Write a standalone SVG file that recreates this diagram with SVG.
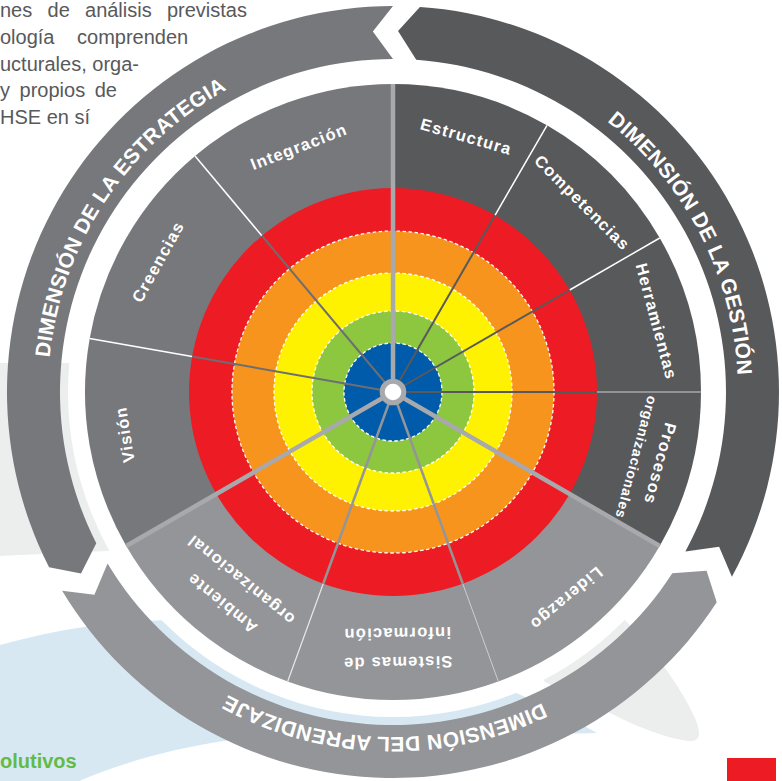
<svg xmlns="http://www.w3.org/2000/svg" width="782" height="781" viewBox="0 0 782 781">
<style>
.para{font-family:"Liberation Sans",Arial,sans-serif;font-size:20px;fill:#58595b}
.lbl{font-family:"Liberation Sans",Arial,sans-serif;font-size:16.5px;font-weight:700;fill:#fff;letter-spacing:1.2px;text-anchor:middle}
.lbl-s{font-size:14px;letter-spacing:0.8px}
.dim{font-family:"Liberation Sans",Arial,sans-serif;font-size:21px;font-weight:700;fill:#fff;letter-spacing:0.3px;text-anchor:middle}
.est{fill:#77787b}
.ges{fill:#58595b}
.apr{fill:#939598}
.dash{fill:none;stroke:#fff;stroke-width:1.3;stroke-dasharray:3.5 2.5}
.wl{stroke:#fff;stroke-width:1.5}
.thick{stroke:#a7a9ac;stroke-width:4.5}
</style>
<defs>
<path id="arc-est" d="M84.25 545.94 A345 345 0 0 1 414.06 47.64"/>
<path id="arc-ges" d="M409.85 47.41 A345 345 0 0 1 683 578.89"/>
<path id="arc-apr" d="M687.16 572.26 A345 345 0 0 1 89.81 556.62"/>
</defs>
<g id="background">
<rect width="782" height="781" fill="#fff"/>
<path d="M0 363 H72 V440 L130 550 L0 556 Z" fill="#eceeee"/>
<path d="M-10 648 C50 630 110 621 170 620 C350 615 500 680 597 733 C500 736 300 735 230 740 C160 750 100 770 60 790 L-10 790 Z" fill="#d8e8f3"/>
<path d="M560 560 L623 618 C650 645 680 685 695 718 C702 735 700 742 688 741 C665 738 635 726 610 713 C585 700 565 692 545 682 L500 620 Z" fill="#eceeee"/>
<rect x="727" y="758" width="49" height="23" fill="#ed1c24"/>
<circle cx="393" cy="392" r="325" fill="#fff"/>
</g>
<g id="paragraph">
<text class="para" x="0" y="17" word-spacing="9.7">nes de análisis previstas</text>
<text class="para" x="0" y="43.5" word-spacing="17">ología comprenden</text>
<text class="para" x="0" y="70.5">ucturales, orga-</text>
<text class="para" x="0" y="97" word-spacing="4">y propios de</text>
<text class="para" x="0" y="123.5">HSE en sí</text>
<text x="0" y="768" style="font-family:'Liberation Sans',Arial,sans-serif;font-size:20px;font-weight:700;fill:#62bb46">olutivos</text>
</g>
<g id="dim-estrategia">
<path class="est" d="M49.07 567.24 A386 386 0 0 1 393 6 L372.85 31.56 L393 59 A333 333 0 0 0 96.29 543.18 L81 573.59 Z"/>
<text class="dim"><textPath href="#arc-est" startOffset="50%">DIMENSIÓN DE LA ESTRATEGIA</textPath></text>
</g>
<g id="dim-gestion">
<path class="ges" d="M419.93 6.94 A386 386 0 0 1 731.9 576.77 L719.11 546.85 L685.37 551.4 A333 333 0 0 0 416.23 59.81 L398.04 31 Z"/>
<text class="dim"><textPath href="#arc-ges" startOffset="50%">DIMENSIÓN DE LA GESTIÓN</textPath></text>
</g>
<g id="dim-aprendizaje">
<path class="apr" d="M716.73 602.23 A386 386 0 0 1 62.13 590.8 L94.39 594.86 L107.56 563.51 A333 333 0 0 0 672.28 573.37 L706.58 570.86 Z"/>
<text class="dim"><textPath href="#arc-apr" startOffset="50%">DIMENSIÓN DEL APRENDIZAJE</textPath></text>
</g>
<g id="sector-vision">
<path class="est" d="M393 392 L126.26 546 A308 308 0 0 1 89.68 338.52 Z"/>
<text class="lbl" transform="translate(130.28 433.61) rotate(-99)">Visión</text>
</g>
<g id="sector-creencias">
<path class="est" d="M393 392 L89.68 338.52 A308 308 0 0 1 195.02 156.06 Z"/>
<text class="lbl" transform="translate(162.98 264.5) rotate(-61)">Creencias</text>
</g>
<g id="sector-integracion">
<path class="est" d="M393 392 L195.02 156.06 A308 308 0 0 1 393 84 Z"/>
<text class="lbl" transform="translate(300.9 152.07) rotate(-21)">Integración</text>
</g>
<g id="sector-estructura">
<path class="ges" d="M393 392 L393 84 A308 308 0 0 1 547 125.26 Z"/>
<text class="lbl" transform="translate(464.67 142.07) rotate(16)">Estructura</text>
</g>
<g id="sector-competencias">
<path class="ges" d="M393 392 L547 125.26 A308 308 0 0 1 659.74 238 Z"/>
<text class="lbl" transform="translate(578.26 206.74) rotate(45)">Competencias</text>
</g>
<g id="sector-herramientas">
<path class="ges" d="M393 392 L659.74 238 A308 308 0 0 1 701 392 Z"/>
<text class="lbl" transform="translate(650.9 322.9) rotate(75)">Herramientas</text>
</g>
<g id="sector-procesos">
<path class="ges" d="M393 392 L701 392 A308 308 0 0 1 659.74 546 Z"/>
<text class="lbl" transform="translate(654.77 462.14) rotate(105)">Procesos</text>
<text class="lbl lbl-s" transform="translate(631.58 455.93) rotate(105)">organizacionales</text>
</g>
<g id="sector-liderazgo">
<path class="apr" d="M393 392 L659.74 546 A308 308 0 0 1 498.34 681.42 Z"/>
<text class="lbl" transform="translate(562.7 594.23) rotate(140)">Liderazgo</text>
</g>
<g id="sector-sistemas">
<path class="apr" d="M393 392 L498.34 681.42 A308 308 0 0 1 287.66 681.42 Z"/>
<text class="lbl" transform="translate(397.6 657) rotate(179)">Sistemas de</text>
<text class="lbl" transform="translate(397.1 628) rotate(179)">información</text>
</g>
<g id="sector-ambiente">
<path class="apr" d="M393 392 L287.66 681.42 A308 308 0 0 1 126.26 546 Z"/>
<text class="lbl" transform="translate(225.6 598.72) rotate(219)">Ambiente</text>
<text class="lbl" transform="translate(244.48 575.41) rotate(219)">organizacional</text>
</g>
<g id="rings">
<circle cx="393" cy="392" r="204" fill="#ed1c24"/>
<circle cx="393" cy="392" r="161" fill="#f7941d"/>
<circle cx="393" cy="392" r="119" fill="#fff200"/>
<circle cx="393" cy="392" r="81" fill="#8dc63f"/>
<circle cx="393" cy="392" r="49" fill="#005baa"/>
<circle class="dash" cx="393" cy="392" r="161"/>
<circle class="dash" cx="393" cy="392" r="119"/>
<circle class="dash" cx="393" cy="392" r="81"/>
<circle class="dash" cx="393" cy="392" r="49"/>
</g>
<g id="connectors">
<line class="wl" x1="192.1" y1="356.58" x2="89.68" y2="338.52"/>
<line class="wl" x1="261.87" y1="235.73" x2="195.02" y2="156.06"/>
<line class="wl" x1="495" y1="215.33" x2="547" y2="125.26"/>
<line class="wl" x1="569.67" y1="290" x2="659.74" y2="238"/>
<line x1="597" y1="392" x2="701" y2="392" stroke="#a7a9ac" stroke-width="1.5"/>
<line x1="462.77" y1="583.7" x2="498.34" y2="681.42" stroke="#c9cacc" stroke-width="1"/>
<line x1="323.23" y1="583.7" x2="287.66" y2="681.42" stroke="#e6e7e8" stroke-width="1.2"/>
<line x1="393" y1="392" x2="192.1" y2="356.58" stroke="#6d6e71" stroke-width="2"/>
<line x1="393" y1="392" x2="261.87" y2="235.73" stroke="#6d6e71" stroke-width="2"/>
<line x1="393" y1="392" x2="495" y2="215.33" stroke="#58595b" stroke-width="2"/>
<line x1="393" y1="392" x2="569.67" y2="290" stroke="#58595b" stroke-width="2"/>
<line x1="393" y1="392" x2="597" y2="392" stroke="#58595b" stroke-width="2"/>
<line x1="393" y1="392" x2="462.77" y2="583.7" stroke="#939598" stroke-width="2.5"/>
<line x1="393" y1="392" x2="323.23" y2="583.7" stroke="#939598" stroke-width="2.5"/>
<line class="thick" x1="393" y1="392" x2="393" y2="84"/>
<line class="thick" x1="393" y1="392" x2="659.74" y2="546"/>
<line class="thick" x1="393" y1="392" x2="126.26" y2="546"/>
</g>
<g id="hub">
<circle cx="393" cy="392" r="10.8" fill="#fff" stroke="#a7a9ac" stroke-width="5"/>
</g>
</svg>
